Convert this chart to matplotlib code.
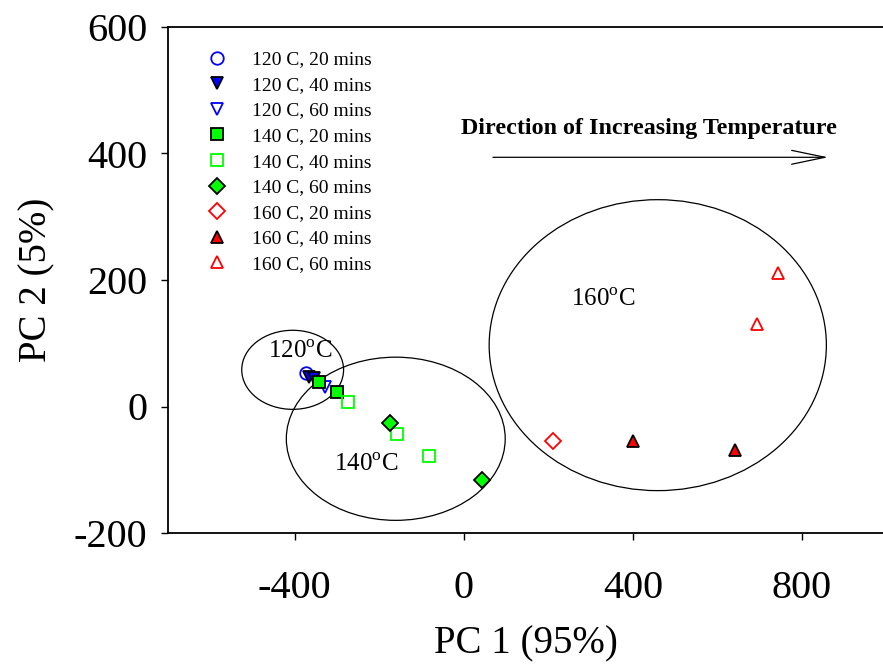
import matplotlib.pyplot as plt
from matplotlib.patches import Ellipse

plt.rcParams['font.family'] = ['Liberation Serif', 'DejaVu Serif']
plt.rcParams['mathtext.fontset'] = 'custom'
plt.rcParams['mathtext.rm'] = 'Liberation Serif'
plt.rcParams['axes.unicode_minus'] = False

# PCA scores per treatment (PC1, PC2)
pc1_120_20 = [-374]
pc2_120_20 = [53]
pc1_120_40 = [-367, -355]
pc2_120_40 = [47, 45]
pc1_120_60 = [-329]
pc2_120_60 = [31]
pc1_140_20 = [-343, -301]
pc2_140_20 = [39, 23]
pc1_140_40 = [-275, -159, -83]
pc2_140_40 = [7, -43, -78]
pc1_140_60 = [-175, 43]
pc2_140_60 = [-26, -116]
pc1_160_20 = [211]
pc2_160_20 = [-55]
pc1_160_40 = [401, 641]
pc2_160_40 = [-55, -69]
pc1_160_60 = [693, 744]
pc2_160_60 = [130, 211]

# temperature groups: centre, width, height, label position
groups = ['120', '140', '160']
group_centres = [(-405, 58), (-161, -51), (459, 97)]
group_widths = [241, 518, 798]
group_heights = [125, 258, 460]
group_label_pos = [(-388, 86), (-232, -92), (329, 168)]

fig = plt.figure(figsize=(8.83, 6.67), dpi=100)
ax = fig.add_axes([168 / 883, 134 / 667, 715 / 883, 506 / 667])

blue, green, red = '#0000ff', '#00ff00', '#ff0000'
ms = 9
ax.plot(pc1_120_20, pc2_120_20, 'o', ms=ms, mfc='none', mec=blue, mew=1.3,
        label='120 C, 20 mins')
ax.plot(pc1_120_40, pc2_120_40, 'v', ms=ms, mfc=blue, mec='black', mew=1.3,
        label='120 C, 40 mins')
ax.plot(pc1_120_60, pc2_120_60, 'v', ms=ms, mfc='none', mec=blue, mew=1.3,
        label='120 C, 60 mins')
ax.plot(pc1_140_20, pc2_140_20, 's', ms=ms, mfc=green, mec='black', mew=1.3,
        label='140 C, 20 mins')
ax.plot(pc1_140_40, pc2_140_40, 's', ms=ms, mfc='none', mec=green, mew=1.3,
        label='140 C, 40 mins')
ax.plot(pc1_140_60, pc2_140_60, 'D', ms=ms - 1, mfc=green, mec='black', mew=1.3,
        label='140 C, 60 mins')
ax.plot(pc1_160_20, pc2_160_20, 'D', ms=ms - 1, mfc='none', mec=red, mew=1.3,
        label='160 C, 20 mins')
ax.plot(pc1_160_40, pc2_160_40, '^', ms=ms, mfc=red, mec='black', mew=1.3,
        label='160 C, 40 mins')
ax.plot(pc1_160_60, pc2_160_60, '^', ms=ms, mfc='none', mec=red, mew=1.3,
        label='160 C, 60 mins')

for g, c, w, h, lp in zip(groups, group_centres, group_widths,
                          group_heights, group_label_pos):
    ax.add_patch(Ellipse(c, w, h, fill=False, ec='black', lw=0.9))
    ax.text(lp[0], lp[1], g + r'$^{\mathrm{o}}$C', fontsize=18,
            ha='center', va='center')

ax.annotate('', xy=(862, 394), xytext=(69, 394),
            arrowprops=dict(arrowstyle='->,head_length=2.4,head_width=0.5',
                            lw=0.9, color='black', shrinkA=0, shrinkB=0))
ax.text(437, 440, 'Direction of Increasing Temperature', fontsize=17.3,
        fontweight='bold', ha='center', va='center')

ax.set_xlim(-700, 992)
ax.set_ylim(-200, 600)
ax.set_xticks([-400, 0, 400, 800])
ax.set_yticks([-200, 0, 200, 400, 600])
ax.tick_params(direction='out', length=5, width=1, labelsize=29, pad=10)
ax.tick_params(axis='x', pad=22)
ax.spines['right'].set_visible(False)
for s in ['left', 'bottom', 'top']:
    ax.spines[s].set_linewidth(1.3)

ax.set_xlabel('PC 1 (95%)', fontsize=28, labelpad=13)
ax.set_ylabel('PC 2 (5%)', fontsize=28, labelpad=13)

ax.legend(loc='upper left', bbox_to_anchor=(0.048, 0.953), frameon=False,
          fontsize=14, labelspacing=0.41, handletextpad=1.03,
          borderaxespad=0, borderpad=0, handlelength=1.5)

fig.savefig('out.png', dpi=100)
